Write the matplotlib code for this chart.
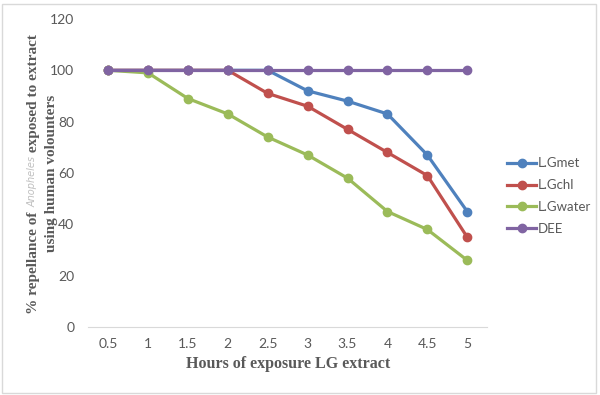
import matplotlib
matplotlib.use("Agg")
import matplotlib.pyplot as plt
from matplotlib.patches import Rectangle

# categorias do eixo x (horas)
horas = ["0.5", "1", "1.5", "2", "2.5", "3", "3.5", "4", "4.5", "5"]

# % de repelencia por extrato
lg_met = [100, 100, 100, 100, 100, 92, 88, 83, 67, 45]
lg_chl = [100, 100, 100, 100, 91, 86, 77, 68, 59, 35]
lg_water = [100, 99, 89, 83, 74, 67, 58, 45, 38, 26]
dee = [100, 100, 100, 100, 100, 100, 100, 100, 100, 100]

series = [("L.Gmet", lg_met, "#4F81BD"),
          ("L.Gchl", lg_chl, "#C0504D"),
          ("L.Gwater", lg_water, "#9BBB59"),
          ("DEE", dee, "#8064A2")]

cinza = "#595959"
serif = "Liberation Serif"

fig = plt.figure(figsize=(6, 3.95), dpi=100)
ax = fig.add_axes([0.147, 0.172, 0.665, 0.78])

x = list(range(len(horas)))
for nome, valores, cor in series:
    ax.plot(x, valores, color=cor, lw=2.3, marker="o", ms=6, label=nome)

ax.set_xlim(-0.5, len(horas) - 0.5)
ax.set_ylim(0, 120)
ax.set_yticks(range(0, 121, 20))
ax.set_xticks(x)
ax.set_xticklabels(horas)
for s in ["top", "right", "left"]:
    ax.spines[s].set_visible(False)
ax.spines["bottom"].set_color("#D9D9D9")
ax.tick_params(axis="both", length=0, labelsize=10, colors=cinza, pad=8)
ax.tick_params(axis="y", pad=10)
for lbl in ax.get_xticklabels() + ax.get_yticklabels():
    lbl.set_family("Lato")

ax.set_xlabel("Hours of exposure LG extract", fontfamily=serif, fontweight="bold",
              fontsize=11.5, color=cinza, labelpad=4)

leg = ax.legend(loc="center left", bbox_to_anchor=(1.02, 0.425), frameon=False,
                handlelength=2.2, handletextpad=0.1, labelspacing=0.75,
                prop={"family": "Lato", "size": 9.5})
for t in leg.get_texts():
    t.set_color(cinza)

# rotulo do eixo y: montado em partes por causa do nome em italico
fig.canvas.draw()
r = fig.canvas.get_renderer()
partes = [("% repellance of ", dict(fontfamily=serif, fontweight="bold", fontsize=11, color=cinza)),
          ("Anopheles", dict(fontfamily="DejaVu Sans", style="italic", fontsize=7, color="#BFBFBF")),
          (" exposed to extract", dict(fontfamily=serif, fontweight="bold", fontsize=11, color=cinza))]
textos = []
for txt, kw in partes:
    textos.append(fig.text(0, 0, txt, rotation=90, ha="center", va="bottom", **kw))
alturas = [t.get_window_extent(r).height for t in textos]
total = sum(alturas)
y0 = 395 - 174 - total / 2
xpix = 33
for t, h in zip(textos, alturas):
    t.set_position((xpix / 600, y0 / 395))
    y0 += h
fig.text(51 / 600, (395 - 173) / 395, "using human volounters", rotation=90, ha="center",
         va="center", fontfamily=serif, fontweight="bold", fontsize=11, color=cinza)

# moldura cinza em volta do grafico
fig.patches.append(Rectangle((0.004, 0.006), 0.99, 0.985, transform=fig.transFigure,
                             fill=False, edgecolor="#D9D9D9", lw=1))

fig.savefig("out.png", dpi=100)
